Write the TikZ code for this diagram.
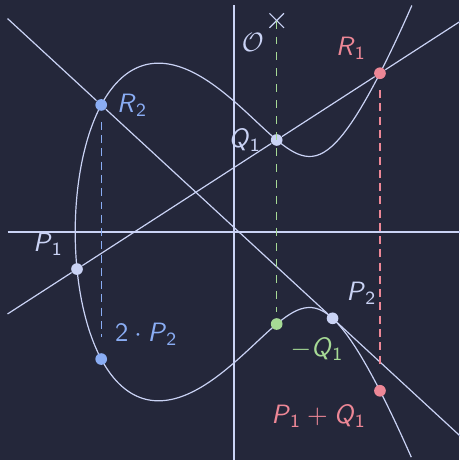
\documentclass[tikz,border=0pt]{standalone}
\usepackage{xcolor}
\usepackage{amsmath,amssymb}
\usetikzlibrary{calc,shapes.misc,positioning}

\definecolor{ctpbase}{HTML}{24273A}
\definecolor{ctptext}{HTML}{CAD3F5}
\definecolor{ctpred}{HTML}{ED8796}
\definecolor{ctpblue}{HTML}{8AADF4}
\definecolor{ctpgreen}{HTML}{A6DA95}

\newcommand{\pnt}[2]{\textit{#1}\textsubscript{#2}}

\begin{document}
\begin{tikzpicture}[
    every node/.style={font=\sffamily},
    thinline/.style={draw=ctptext, line width=0.45pt},
    dot/.style={circle, inner sep=0pt, minimum size=4.4pt},
    drop/.style={line width=0.5pt, dash pattern=on 3pt off 2pt, shorten <=4pt, shorten >=6pt},
    declare function={ecx(\s)=-2.1038+\s*\s; ecy(\s)=sqrt(abs(ecx(\s)*ecx(\s)*ecx(\s)-3*ecx(\s)+3));},
]

% Background and page size
\useasboundingbox[fill=ctpbase] (-3.1,-3.02) rectangle (2.98,3.073);

% Axes
\coordinate (xmin) at (-3,0);
\coordinate (xmax) at (3,0);
\coordinate (ymin) at (0,-3.05);
\coordinate (ymax) at (0,3);
\draw[thinline] (xmin) -- (xmax);
\draw[thinline] (ymin) -- (ymax);

% Curve y^2 = x^3 - 3x + 3, upper branch then lower branch
\draw[thinline] plot[domain=2.1117:0, samples=150, variable=\t] ({ecx(\t)}, {ecy(\t)})
    -- plot[domain=0:2.1117, samples=150, variable=\t] ({ecx(\t)}, {-ecy(\t)});

% Points on the curve
\node[dot, fill=ctptext, label={[text=ctptext]above left:{\pnt{P}{1}}}] (P1) at (-2.08,-0.4910) {};
\node[dot, fill=ctptext, label={[text=ctptext]left:{\pnt{Q}{1}}}] (Q1) at (0.565,1.2188) {};
\node[dot, fill=ctpred, label={[text=ctpred]above left:{\pnt{R}{1}}}] (R1) at (1.9329,2.1030) {};
\node[dot, fill=ctpred, label={[text=ctpred]below left:{\pnt{P}{1}${}+{}$\pnt{Q}{1}}}] (P1Q1) at (1.9329,-2.1030) {};
\node[dot, fill=ctpgreen, label={[text=ctpgreen]below right:{$-$\pnt{Q}{1}}}] (mQ1) at (0.565,-1.2188) {};
\node[dot, fill=ctptext, label={[text=ctptext]above right:{\pnt{P}{2}}}] (P2) at (1.305,-1.1434) {};
\node[dot, fill=ctpblue, label={[text=ctpblue]right:{\pnt{R}{2}}}] (R2) at (-1.7594,1.6828) {};
\node[dot, fill=ctpblue, label={[text=ctpblue]above right:{2${}\cdot{}$\pnt{P}{2}}}] (twoP2) at (-1.7594,-1.6828) {};

% Point at infinity
\node[cross out, draw=ctptext, line width=0.45pt, minimum size=5pt, inner sep=0pt,
      label={[text=ctptext, label distance=-2pt]below left:$\mathcal{O}$}] (O) at (0.565,2.8) {};

% Secant through P1 and Q1, tangent at P2
\coordinate (sa) at (-3,-1.0857);
\coordinate (sb) at (3,2.7928);
\coordinate (ta) at (-3,2.8269);
\coordinate (tb) at (3,-2.7067);
\draw[thinline] (sa) -- (P1) -- (Q1) -- (R1) -- (sb);
\draw[thinline] (ta) -- (R2) -- (P2) -- (tb);

% Reflections
\draw[drop, draw=ctpred] (R1) -- (P1Q1);
\draw[drop, draw=ctpblue] (R2) -- (twoP2);
\draw[draw=ctpgreen, line width=0.5pt, dashed, shorten >=2pt] (O.center) -- (mQ1);

\end{tikzpicture}
\end{document}
